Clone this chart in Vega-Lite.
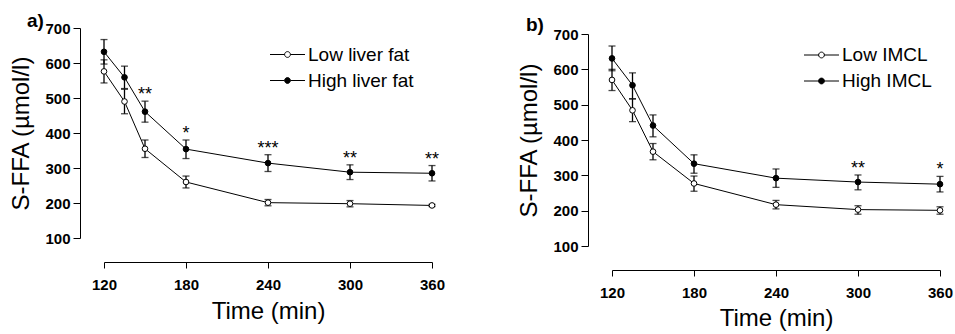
{
  "$schema": "https://vega.github.io/schema/vega-lite/v6.json",
  "background": "white",
  "padding": {"left": 9, "top": 11, "right": 2, "bottom": 2},
  "bounds": "flush",
  "spacing": 180,
  "config": {
    "font": "Liberation Sans",
    "view": {"stroke": null},
    "axis": {
      "domainColor": "black", "tickColor": "black", "labelColor": "black", "titleColor": "black",
      "grid": false, "labelFont": "Liberation Sans", "labelFontWeight": "bold", "labelFontSize": 15,
      "titleFont": "Liberation Sans", "titleFontWeight": "normal", "titleFontSize": 24,
      "tickSize": 6, "domainWidth": 1, "tickWidth": 1, "labelOverlap": false, "labelFlush": false
    },
    "legend": {
      "labelFont": "Liberation Sans", "labelFontSize": 19, "labelColor": "black", "padding": 0
    },
    "title": {"font": "Liberation Sans", "fontSize": 19, "fontWeight": "bold", "color": "black"}
  },
  "datasets": {
    "a": [
      {"time": 120, "group": "Low liver fat", "mean": 576, "lo": 543, "hi": 609, "sig": ""},
      {"time": 135, "group": "Low liver fat", "mean": 490, "lo": 455, "hi": 525, "sig": ""},
      {"time": 150, "group": "Low liver fat", "mean": 355, "lo": 330, "hi": 380, "sig": ""},
      {"time": 180, "group": "Low liver fat", "mean": 260, "lo": 243, "hi": 277, "sig": ""},
      {"time": 240, "group": "Low liver fat", "mean": 201, "lo": 192, "hi": 210, "sig": ""},
      {"time": 300, "group": "Low liver fat", "mean": 198, "lo": 189, "hi": 207, "sig": ""},
      {"time": 360, "group": "Low liver fat", "mean": 193, "lo": 190, "hi": 196, "sig": ""},
      {"time": 120, "group": "High liver fat", "mean": 632, "lo": 597, "hi": 667, "sig": ""},
      {"time": 135, "group": "High liver fat", "mean": 559, "lo": 527, "hi": 591, "sig": ""},
      {"time": 150, "group": "High liver fat", "mean": 461, "lo": 431, "hi": 491, "sig": "**"},
      {"time": 180, "group": "High liver fat", "mean": 354, "lo": 327, "hi": 380, "sig": "*"},
      {"time": 240, "group": "High liver fat", "mean": 314, "lo": 290, "hi": 338, "sig": "***"},
      {"time": 300, "group": "High liver fat", "mean": 288, "lo": 267, "hi": 309, "sig": "**"},
      {"time": 360, "group": "High liver fat", "mean": 285, "lo": 263, "hi": 307, "sig": "**"}
    ],
    "b": [
      {"time": 120, "group": "Low IMCL", "mean": 570, "lo": 540, "hi": 600, "sig": ""},
      {"time": 135, "group": "Low IMCL", "mean": 484, "lo": 452, "hi": 516, "sig": ""},
      {"time": 150, "group": "Low IMCL", "mean": 367, "lo": 344, "hi": 390, "sig": ""},
      {"time": 180, "group": "Low IMCL", "mean": 277, "lo": 255, "hi": 298, "sig": ""},
      {"time": 240, "group": "Low IMCL", "mean": 217, "lo": 205, "hi": 229, "sig": ""},
      {"time": 300, "group": "Low IMCL", "mean": 203, "lo": 190, "hi": 214, "sig": ""},
      {"time": 360, "group": "Low IMCL", "mean": 201, "lo": 190, "hi": 211, "sig": ""},
      {"time": 120, "group": "High IMCL", "mean": 631, "lo": 596, "hi": 666, "sig": ""},
      {"time": 135, "group": "High IMCL", "mean": 555, "lo": 517, "hi": 590, "sig": ""},
      {"time": 150, "group": "High IMCL", "mean": 441, "lo": 409, "hi": 471, "sig": ""},
      {"time": 180, "group": "High IMCL", "mean": 333, "lo": 306, "hi": 358, "sig": ""},
      {"time": 240, "group": "High IMCL", "mean": 292, "lo": 266, "hi": 318, "sig": ""},
      {"time": 300, "group": "High IMCL", "mean": 281, "lo": 259, "hi": 301, "sig": "**"},
      {"time": 360, "group": "High IMCL", "mean": 275, "lo": 253, "hi": 297, "sig": "*"}
    ]
  },
  "resolve": {
    "scale": {"x": "independent", "y": "independent", "fill": "independent"},
    "legend": {"fill": "independent"}
  },
  "hconcat": [
    {
      "width": 328, "height": 210,
      "title": {"text": "a)", "anchor": "start", "frame": "group", "dx": -77, "dy": 24.5, "baseline": "alphabetic", "offset": 0},
      "data": {"name": "a"},
      "encoding": {
        "x": {"field": "time", "type": "quantitative",
              "scale": {"domain": [120, 360], "nice": false, "zero": false},
              "axis": {"values": [120, 180, 240, 300, 360], "tickCount": 10, "offset": 24, "title": "Time (min)", "labelPadding": 9, "titlePadding": 7}}
      },
      "layer": [
        {
          "mark": {"type": "errorbar", "color": "black", "thickness": 1.3, "ticks": {"size": 7}},
          "encoding": {
            "y": {"field": "lo", "type": "quantitative",
                  "scale": {"domain": [100, 700], "nice": false, "zero": false},
                  "axis": {"values": [100, 200, 300, 400, 500, 600, 700], "tickCount": 10, "offset": 24, "tickSize": 7, "labelPadding": 3, "titlePadding": 11, "title": "S-FFA (µmol/l)"}},
            "y2": {"field": "hi"},
            "detail": {"field": "group"}
          }
        },
        {
          "mark": {"type": "line", "color": "black", "strokeWidth": 1},
          "encoding": {
            "y": {"field": "mean", "type": "quantitative",
                  "axis": {"values": [100, 200, 300, 400, 500, 600, 700], "tickCount": 10, "offset": 24, "tickSize": 7, "labelPadding": 3, "titlePadding": 11, "title": "S-FFA (µmol/l)"}},
            "detail": {"field": "group"}
          }
        },
        {
          "mark": {"type": "point", "filled": true, "shape": "circle", "size": 32, "stroke": "black", "strokeWidth": 1, "opacity": 1},
          "encoding": {
            "y": {"field": "mean", "type": "quantitative"},
            "fill": {"field": "group", "type": "nominal",
                     "scale": {"domain": ["Low liver fat", "High liver fat"], "range": ["white", "black"]},
                     "legend": {"title": null, "orient": "none", "legendX": 174, "legendY": 17,
                                "symbolType": "M-2,0H-0.33M0.33,0H2M-0.33,0A0.33,0.33,0,1,0,0.33,0A0.33,0.33,0,1,0,-0.33,0Z",
                                "symbolSize": 306, "symbolStrokeColor": "black", "symbolStrokeWidth": 1,
                                "labelOffset": 11, "rowPadding": 6}}
          }
        },
        {
          "transform": [{"filter": "datum.sig != ''"}],
          "mark": {"type": "text", "baseline": "alphabetic", "fontSize": 18, "dy": -1, "color": "black"},
          "encoding": {
            "y": {"field": "hi", "type": "quantitative"},
            "text": {"field": "sig"}
          }
        }
      ]
    },
    {
      "width": 328, "height": 218,
      "title": {"text": "b)", "anchor": "start", "frame": "group", "dx": -86, "dy": 22.5, "baseline": "alphabetic", "offset": 0},
      "data": {"name": "b"},
      "encoding": {
        "x": {"field": "time", "type": "quantitative",
              "scale": {"domain": [120, 360], "nice": false, "zero": false},
              "axis": {"values": [120, 180, 240, 300, 360], "tickCount": 10, "offset": 24, "title": "Time (min)", "labelPadding": 9, "titlePadding": 6}}
      },
      "layer": [
        {
          "mark": {"type": "errorbar", "color": "black", "thickness": 1.3, "ticks": {"size": 7}},
          "encoding": {
            "y": {"field": "lo", "type": "quantitative",
                  "scale": {"domain": [100, 700], "nice": false, "zero": false, "range": [218, 6]},
                  "axis": {"values": [100, 200, 300, 400, 500, 600, 700], "tickCount": 10, "offset": 24, "tickSize": 7, "labelPadding": 3, "titlePadding": 11, "title": "S-FFA (µmol/l)"}},
            "y2": {"field": "hi"},
            "detail": {"field": "group"}
          }
        },
        {
          "mark": {"type": "line", "color": "black", "strokeWidth": 1},
          "encoding": {
            "y": {"field": "mean", "type": "quantitative",
                  "axis": {"values": [100, 200, 300, 400, 500, 600, 700], "tickCount": 10, "offset": 24, "tickSize": 7, "labelPadding": 3, "titlePadding": 11, "title": "S-FFA (µmol/l)"}},
            "detail": {"field": "group"}
          }
        },
        {
          "mark": {"type": "point", "filled": true, "shape": "circle", "size": 32, "stroke": "black", "strokeWidth": 1, "opacity": 1},
          "encoding": {
            "y": {"field": "mean", "type": "quantitative"},
            "fill": {"field": "group", "type": "nominal",
                     "scale": {"domain": ["Low IMCL", "High IMCL"], "range": ["white", "black"]},
                     "legend": {"title": null, "orient": "none", "legendX": 200, "legendY": 17.5,
                                "symbolType": "M-2,0H-0.33M0.33,0H2M-0.33,0A0.33,0.33,0,1,0,0.33,0A0.33,0.33,0,1,0,-0.33,0Z",
                                "symbolSize": 306, "symbolStrokeColor": "black", "symbolStrokeWidth": 1,
                                "labelOffset": 11, "rowPadding": 6}}
          }
        },
        {
          "transform": [{"filter": "datum.sig != ''"}],
          "mark": {"type": "text", "baseline": "alphabetic", "fontSize": 18, "dy": -1, "color": "black"},
          "encoding": {
            "y": {"field": "hi", "type": "quantitative"},
            "text": {"field": "sig"}
          }
        }
      ]
    }
  ]
}
